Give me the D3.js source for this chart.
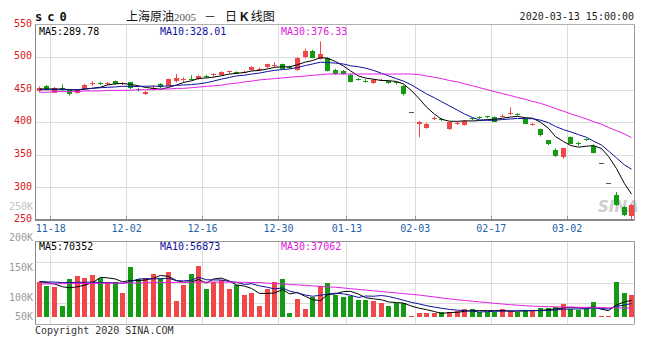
<!DOCTYPE html>
<html>
<head>
<meta charset="utf-8">
<script src="https://cdn.jsdelivr.net/npm/d3@7"></script>
<style>
  body { margin: 0; background: #fff; }
  svg { display: block; }
  text { font-family: "DejaVu Sans Mono", monospace; font-size: 10px; }
</style>
</head>
<body>
<div id="chart"></div>
<script>
// trading days shown on the chart
var dates = ["11-15","11-18","11-19","11-20","11-21","11-22","11-25","11-26","11-27","11-28","11-29",
  "12-02","12-03","12-04","12-05","12-06","12-09","12-10","12-11","12-12","12-13","12-16","12-17","12-18","12-19","12-20","12-23","12-24","12-25","12-26","12-27","12-30","12-31",
  "01-02","01-03","01-06","01-07","01-08","01-09","01-10","01-13","01-14","01-15","01-16","01-17","01-20","01-21","01-22","01-23",
  "02-03","02-04","02-05","02-06","02-07","02-10","02-11","02-12","02-13","02-14","02-17","02-18","02-19","02-20","02-21","02-24","02-25","02-26","02-27","02-28",
  "03-02","03-03","03-04","03-05","03-06","03-09","03-10","03-11","03-12","03-13"];

var open  = [448,455,446,452,449,446,451,459,460,459,463,459,461,451,444,451,458,456,463,464,467,466,471,472,473,477,477,476,480,481,484,487,489,485,480,500,509,498,499,480,479,473,467,464,460,464,463,461,456,415,397,392,405,405,390,398,396,406,408,409,408,409,413,413,405,396,389,372,358,346,377,368,374,364,337,307,288,270,256];
var high  = [455,457,454,458,450,451,459,463,462,462,464,462,462,453,448,457,460,467,474,469,472,472,473,475,478,479,478,479,486,484,490,492,490,487,500,513,511,524,500,482,480,475,468,466,467,467,464,462,457,415,402,399,409,407,401,401,403,407,409,410,409,412,423,414,406,399,390,373,360,361,378,370,375,366,337,307,293,271,274];
var low   = [446,449,445,448,441,444,450,456,457,457,458,457,451,447,442,449,452,455,461,462,464,465,468,470,472,475,474,475,479,479,483,485,481,482,479,498,498,496,478,473,473,461,464,461,459,463,459,458,441,415,377,390,403,402,388,396,395,403,405,406,400,408,411,410,397,395,378,365,347,344,366,364,371,352,337,307,272,256,250];
var close = [453,450,453,451,443,450,457,460,459,460,459,460,452,449,447,452,453,466,468,466,465,471,470,474,477,478,476,477,485,482,489,488,482,484,499,509,499,505,479,474,474,462,466,463,465,465,460,460,443,415,400,398,406,404,400,399,402,405,407,408,401,410,414,412,398,397,380,366,349,360,367,367,373,354,337,307,273,258,273];

var ma5  = [451,451,451,451,450,449.4,450.8,452.2,453.8,457.2,459,459.6,458,456,453.4,452,450.6,453.4,457.2,461,463.6,467.2,468,469.2,471.4,474,475,476.4,478.6,479.6,481.8,484.2,485.2,485,488.4,492.4,494.6,499.2,498.2,493.2,486.2,478.8,471,467.8,466,464.2,463.8,462.6,458.6,448.6,435.6,423.2,412.4,404.6,401.6,401.4,402.2,402,402.6,404.2,404.6,406.2,408,409,407,406.2,400.2,390.6,378,370.4,364.4,361.8,363.2,364.2,359.6,347.6,328.8,305.8,289.78];
var ma10 = [450,450,450,450,450,450,451,452,453,453.6,454.2,455.2,455.1,454.9,455.3,455.5,455.1,455.7,456.6,457.2,457.8,458.9,460.7,463.2,466.2,468.8,471.1,472.2,473.9,475.5,477.9,479.6,480.8,481.8,484,487.1,489.4,492.2,491.6,490.8,489.3,486.7,485.1,483,479.6,475.2,471.3,466.8,463.2,457.3,449.9,443.5,437.5,431.6,425.1,418.5,412.7,407.2,403.6,402.9,403,404.2,405,405.8,405.6,405.4,403.2,399.3,393.5,388.7,385.3,381,376.9,371.1,365,356,345.3,334.5,328.01];
var ma30 = [446,446,447,447,447,447,448,448,448,449,449,449,449,450,450,450,451,451,452,452,453,454,455,456,457,459,460,462,463,465,466,467,468,469,470,471,472,473,474,474,474,474,474,474,474,474,474,474,474,474,473,471,469,467,464,462,459,456,453,450,447,444,441,438,435,432,429,425,421,417,413,409,405,401,397,392,387,382,376.33];

var volume = [150000,132000,129000,47000,160000,174000,164000,178000,164000,150000,150000,101000,210000,160000,164000,183000,164000,190000,68000,136000,183000,217000,118000,150000,157000,118000,136000,93500,103000,47000,118000,150000,160000,16000,76000,34000,86000,132000,146000,93500,84000,91000,72000,72000,68000,61000,47000,58000,61000,4000,16000,16000,17000,22000,22500,24000,33000,33000,22500,22500,22500,33000,24000,22500,30000,27000,37000,37000,41000,55000,33000,30000,33000,65000,4000,4000,147000,101000,93500];
var volMa5  = [150000,146000,140000,128000,124000,128000,135000,145000,168000,166000,161000,149000,155000,154000,157000,164000,176000,172000,154000,148000,148000,159000,144000,161000,165000,152000,136000,131000,121000,100000,100000,102000,116000,98000,104000,87000,74000,69000,95000,98000,108000,109000,97000,82000,77000,73000,64000,61000,59000,46000,37000,31000,23000,15000,19000,20000,24000,27000,27000,27000,27000,27000,25000,25000,26000,27000,28000,31000,34000,39000,41000,39000,38000,43000,33000,27000,51000,64000,70352];
var volMa10 = [150000,149000,148000,146000,146000,147000,147000,148000,146000,145000,145000,142000,150000,161000,162000,162000,162000,164000,154000,153000,156000,168000,158000,157000,157000,150000,147000,138000,141000,132000,126000,119000,123000,110000,102000,93000,88000,92000,97000,101000,98000,92000,83000,89000,88000,91000,87000,79000,71000,62000,55000,48000,42000,37000,32000,29000,27000,25000,21000,23000,24000,25000,26000,26000,27000,27000,27000,28000,30000,33000,34000,34000,35000,39000,36000,34000,45000,51000,56873];
var volMa30 = [140000,140000,141000,141000,141000,142000,142000,142000,143000,143000,143000,144000,144000,145000,145000,146000,146000,146000,147000,147000,147000,148000,148000,148000,148000,148000,147000,147000,146000,146000,143000,142000,140000,138000,136000,134000,132000,130000,128000,126000,123000,120000,117000,114000,111000,108000,105000,102000,99000,96000,93000,89000,85000,81000,77000,73000,70000,67000,64000,61000,58000,55000,52000,50000,48000,46000,45000,44000,43000,42000,42000,41000,41000,41000,40000,39000,39000,38000,37062];

var dateTicks = ["11-18","12-02","12-16","12-30","01-13","02-03","02-17","03-02"];
var priceTicks = [250, 300, 350, 400, 450, 500, 550];
var volTicks = [50000, 100000, 150000, 200000, 250000];

var RED = "#f04848", GREEN = "#149a14";
var MA_COLORS = ["#000000", "#10109c", "#e020e0"];

var width = 657, height = 353;
var left = 35, right = 634.5;
var priceTop = 24.5, priceBottom = 220;
var volTop = 241.5, volBase = 317, volBottom = 324;

var svg = d3.select("#chart").append("svg")
            .attr("width", width)
            .attr("height", height);

var x = d3.scaleBand().domain(dates).range([35, 635]);
var y = d3.scaleLinear().domain([250, 550]).range([priceBottom, priceTop]);
var yVol = d3.scaleLinear().domain([0, 320000]).range([volBase, volTop]);
// the volume labels on the sina picture sit on their own scale
var yVolLabel = d3.scaleLinear().domain([100000, 250000]).range([298, 207]);

function cx(d) { return Math.round(x(d) + x.bandwidth() / 2); }
function gx(d) { return Math.round(x(d) + x.step()) + 0.5; }

// ---- grid ----
var grid = svg.append("g").attr("class", "grid");
grid.selectAll(".hp")
    .data(priceTicks.slice(1, -1))
    .enter().append("line")
    .attr("x1", left).attr("x2", right)
    .attr("y1", d => Math.round(y(d)) + 0.5).attr("y2", d => Math.round(y(d)) + 0.5)
    .attr("stroke", "#dcdcdc");
grid.selectAll(".vp")
    .data(dateTicks)
    .enter().append("line")
    .attr("x1", gx).attr("x2", gx)
    .attr("y1", priceTop).attr("y2", priceBottom)
    .attr("stroke", "#dcdcdc");
grid.selectAll(".vt")
    .data(dateTicks)
    .enter().append("line")
    .attr("x1", gx).attr("x2", gx)
    .attr("y1", priceBottom - 4).attr("y2", priceBottom)
    .attr("stroke", "#999");
grid.selectAll(".hv")
    .data([1, 2, 3])
    .enter().append("line")
    .attr("x1", left).attr("x2", right)
    .attr("y1", k => Math.round(volTop + k * (volBottom - volTop) / 4) + 0.5)
    .attr("y2", k => Math.round(volTop + k * (volBottom - volTop) / 4) + 0.5)
    .attr("stroke", "#dcdcdc");
grid.selectAll(".vv")
    .data(dateTicks)
    .enter().append("line")
    .attr("x1", gx).attr("x2", gx)
    .attr("y1", volTop).attr("y2", volBottom)
    .attr("stroke", "#dcdcdc");

// watermark
svg.append("text")
   .attr("x", 598).attr("y", 212)
   .style("font-family", "DejaVu Sans")
   .style("font-size", "15px")
   .style("font-style", "italic")
   .style("font-weight", "bold")
   .attr("fill", "#b8b8b8")
   .attr("opacity", 0.7)
   .text("SINA");

// ---- frames ----
svg.append("line").attr("x1", left).attr("x2", right).attr("y1", priceTop).attr("y2", priceTop).attr("stroke", "#b0b0b0");
svg.append("line").attr("x1", right).attr("x2", right).attr("y1", priceTop).attr("y2", priceBottom).attr("stroke", "#999");
svg.append("line").attr("x1", left + 0.5).attr("x2", left + 0.5).attr("y1", priceTop).attr("y2", priceBottom).attr("stroke", "#888");
svg.append("line").attr("x1", left).attr("x2", right).attr("y1", priceBottom).attr("y2", priceBottom).attr("stroke", "#888").attr("stroke-width", 2);

svg.append("line").attr("x1", left).attr("x2", right).attr("y1", volTop).attr("y2", volTop).attr("stroke", "#999");
svg.append("line").attr("x1", right).attr("x2", right).attr("y1", volTop).attr("y2", volBottom).attr("stroke", "#999");
svg.append("line").attr("x1", left + 0.5).attr("x2", left + 0.5).attr("y1", volTop).attr("y2", volBottom).attr("stroke", "#888");
svg.append("line").attr("x1", left).attr("x2", right).attr("y1", volBottom + 0.5).attr("y2", volBottom + 0.5).attr("stroke", "#aaa");

// ---- candles ----
var candles = dates.map((d, i) => ({date: d, o: open[i], h: high[i], l: low[i], c: close[i]}));
function candleColor(d) { return d.c > d.o ? RED : (d.c < d.o ? GREEN : "#555"); }

var k = svg.append("g").attr("class", "candles");
k.selectAll("line")
 .data(candles)
 .enter().append("line")
 .attr("x1", d => cx(d.date) + 0.5).attr("x2", d => cx(d.date) + 0.5)
 .attr("y1", d => y(d.h)).attr("y2", d => y(d.l))
 .attr("stroke", candleColor);
k.selectAll("rect")
 .data(candles)
 .enter().append("rect")
 .attr("x", d => cx(d.date) - 2)
 .attr("width", 5)
 .attr("y", d => Math.round(y(Math.max(d.o, d.c))))
 .attr("height", d => Math.max(1, Math.round(Math.abs(y(d.o) - y(d.c)))))
 .attr("fill", candleColor)
 .attr("shape-rendering", "crispEdges");

// ---- price MA lines ----
var priceLine = d3.line().x((v, i) => cx(dates[i]) + 0.5).y(v => y(v));
[ma5, ma10, ma30].forEach(function (s, j) {
    svg.append("path").attr("d", priceLine(s))
       .attr("fill", "none").attr("stroke", MA_COLORS[j]).attr("stroke-width", 1);
});

// ---- volume bars ----
svg.append("g").attr("class", "volume")
   .selectAll("rect")
   .data(candles)
   .enter().append("rect")
   .attr("x", d => cx(d.date) - 2)
   .attr("width", 5)
   .attr("y", (d, i) => Math.round(yVol(volume[i])))
   .attr("height", (d, i) => volBase - Math.round(yVol(volume[i])))
   .attr("fill", d => d.c >= d.o ? RED : GREEN)
   .attr("shape-rendering", "crispEdges");

var volLine = d3.line().x((v, i) => cx(dates[i]) + 0.5).y(v => yVol(v));
[volMa5, volMa10, volMa30].forEach(function (s, j) {
    svg.append("path").attr("d", volLine(s))
       .attr("fill", "none").attr("stroke", MA_COLORS[j]).attr("stroke-width", 1);
});

// ---- axes ----
var axisY = d3.axisLeft(y).tickValues(priceTicks).tickSize(0).tickPadding(3);
svg.append("g")
   .attr("transform", "translate(" + left + ",-1.5)")
   .call(axisY)
   .call(g => g.select(".domain").remove())
   .selectAll("text")
   .style("font-family", "DejaVu Sans Mono").style("font-size", "10px")
   .attr("fill", "#d81818");

var axisX = d3.axisBottom(x).tickValues(dateTicks).tickSize(0).tickPadding(5);
svg.append("g")
   .attr("transform", "translate(" + (x.step() / 2 + 0.5) + "," + priceBottom + ")")
   .call(axisX)
   .call(g => g.select(".domain").remove())
   .selectAll("text")
   .style("font-family", "DejaVu Sans Mono").style("font-size", "10px")
   .attr("fill", "#1f64a8");

svg.append("g").selectAll("text")
   .data(volTicks)
   .enter().append("text")
   .attr("x", 33)
   .attr("y", v => Math.min(yVolLabel(v), volBase))
   .attr("dy", "0.32em")
   .attr("text-anchor", "end")
   .attr("fill", v => v > 200000 ? "#c4c4c4" : "#9a9a9a")
   .text(v => (v / 1000) + "K");

// ---- titles and legends ----
svg.append("text")
   .attr("x", 35).attr("y", 21)
   .style("font-size", "12px").style("font-weight", "bold")
   .style("letter-spacing", "5px")
   .attr("fill", "#111")
   .text("sc0");

var title = svg.append("text").attr("x", 126).attr("y", 21).attr("fill", "#111");
title.append("tspan").style("font-family", "Noto Sans CJK SC").style("font-size", "12px").text("上海原油");
title.append("tspan").style("font-family", "Liberation Serif").style("font-size", "11px").attr("fill", "#555").text("2005");
title.append("tspan").style("font-family", "Noto Sans CJK SC").style("font-size", "12px").attr("dx", 8).text("－");
title.append("tspan").style("font-family", "Noto Sans CJK SC").style("font-size", "12px").attr("dx", 9).text("日");
title.append("tspan").style("font-family", "Liberation Sans").style("font-size", "12px").style("font-weight", "bold").attr("dx", 3).text("K");
title.append("tspan").style("font-family", "Noto Sans CJK SC").style("font-size", "12px").attr("dx", 2).text("线图");

svg.append("text")
   .attr("x", 634).attr("y", 20)
   .attr("text-anchor", "end")
   .attr("fill", "#222")
   .text("2020-03-13 15:00:00");

function legend(yPos, labels, series, fmt) {
    svg.append("g").selectAll("text")
       .data(labels)
       .enter().append("text")
       .attr("x", (d, i) => 39 + i * 121)
       .attr("y", yPos)
       .attr("dy", "0.35em")
       .attr("fill", (d, i) => MA_COLORS[i])
       .text((d, i) => d + ":" + fmt(series[i][series[i].length - 1]));
}
legend(31, ["MA5", "MA10", "MA30"], [ma5, ma10, ma30], d3.format(".2f"));
legend(246, ["MA5", "MA10", "MA30"], [volMa5, volMa10, volMa30], d3.format("d"));

svg.append("text")
   .attr("x", 35).attr("y", 330)
   .attr("dy", "0.35em")
   .attr("fill", "#333")
   .text("Copyright 2020 SINA.COM");
</script>
</body>
</html>
